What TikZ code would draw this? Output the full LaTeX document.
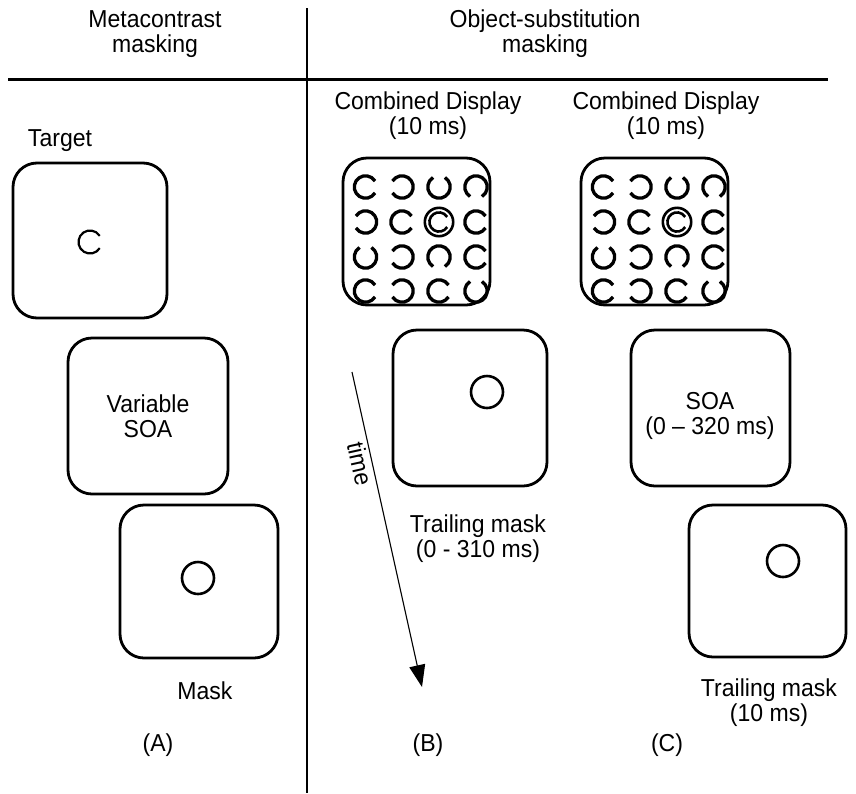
\documentclass[tikz,border=0pt]{standalone}
\usepackage{fontspec}
\setmainfont[FakeStretch=0.94]{Liberation Sans}
\usetikzlibrary{arrows.meta}
\newcommand\ceeshape[5]{\draw[line width=#5] (#1,#2) ++(#3+32:#4) arc[start angle=#3+32, end angle=#3+328, radius=#4];}
\begin{document}
\begin{tikzpicture}[x=1pt,y=-1pt,
  screen/.style={draw, line width=2.8pt, rounded corners=24pt, inner sep=0pt},
  lbl/.style={font=\fontsize{24.5}{25}\selectfont, align=center, inner sep=0pt},
  ring/.style={line width=2.6pt},
  rule/.style={line width=3pt},
  arrowline/.style={line width=1.1pt, -{Triangle[length=22pt,width=16pt]}}
]
\useasboundingbox (0,0) rectangle (856,793);

% header
\node[lbl] (hA) at (155,34) {Metacontrast\\masking};
\node[lbl] (hB) at (545,34) {Object-substitution\\masking};
\coordinate (hl) at (8,79);
\coordinate (hr) at (828,79);
\coordinate (vt) at (307,8);
\coordinate (vb) at (307,793);
\draw[rule] (hl) -- (hr);
\draw[line width=2.5pt] (vt) -- (vb);

% panel A
\node[lbl] (target) at (60,141) {Target};
\node[screen, minimum width=154pt, minimum height=155pt] (a1) at (90,240.5) {};
\ceeshape{90}{242}{0}{11.5}{2.2pt}
\node[screen, minimum width=160pt, minimum height=156pt] (a2) at (148,416) {};
\node[lbl] (vsoa) at (148,416) {Variable\\SOA};
\node[screen, minimum width=158pt, minimum height=153pt] (a3) at (199,581.5) {};
\draw[ring] (198,578) circle[radius=16];
\node[lbl] (mask) at (205,691) {Mask};
\node[lbl] (labA) at (158,745) {(A)};

% panel B and C grids
\foreach \sx/\nm in {0/gb, 238/gc}{
\begin{scope}[xshift=\sx pt]
\node[lbl] at (428,116) {Combined Display\\(10 ms)};
\node[screen, minimum width=147pt, minimum height=147pt] (\nm) at (416.5,231.5) {};
\foreach \gx/\gy/\ga in {
  365.5/187/0, 402/187/180, 439/187/-90, 476/187/90,
  365.5/222/180, 402/222/0, 476/222/0,
  365.5/257/-90, 402/257/180, 439/257/90, 476/257/0,
  365.5/291/0, 402/291/180, 439/291/0, 476/291/-90}{
  \ceeshape{\gx}{\gy}{\ga}{11.2}{3.3pt}
}
\draw[line width=2.6pt] (439,222) circle[radius=14.2];
\ceeshape{439}{222}{0}{9.6}{2.6pt}
\end{scope}
}

% panel B
\node[screen, minimum width=154pt, minimum height=156pt] (b2) at (470,408) {};
\draw[ring] (487,392) circle[radius=16];
\node[lbl] (btrail) at (478,539) {Trailing mask\\(0 - 310 ms)};
\coordinate (t0) at (352,372);
\coordinate (t1) at (422,687);
\draw[arrowline] (t0) -- (t1);
\node[lbl, rotate=-77.5] (time) at (360,464) {time};
\node[lbl] (labB) at (428,745) {(B)};

% panel C
\node[screen, minimum width=159pt, minimum height=156pt] (c2) at (710.5,408) {};
\node[lbl] (soa) at (710,416) {SOA\\(0 – 320 ms)};
\node[screen, minimum width=157pt, minimum height=152pt] (c3) at (767.5,581) {};
\draw[ring] (783,561) circle[radius=16];
\node[lbl] (ctrail) at (769,703) {Trailing mask\\(10 ms)};
\node[lbl] (labC) at (667,745) {(C)};
\end{tikzpicture}
\end{document}
